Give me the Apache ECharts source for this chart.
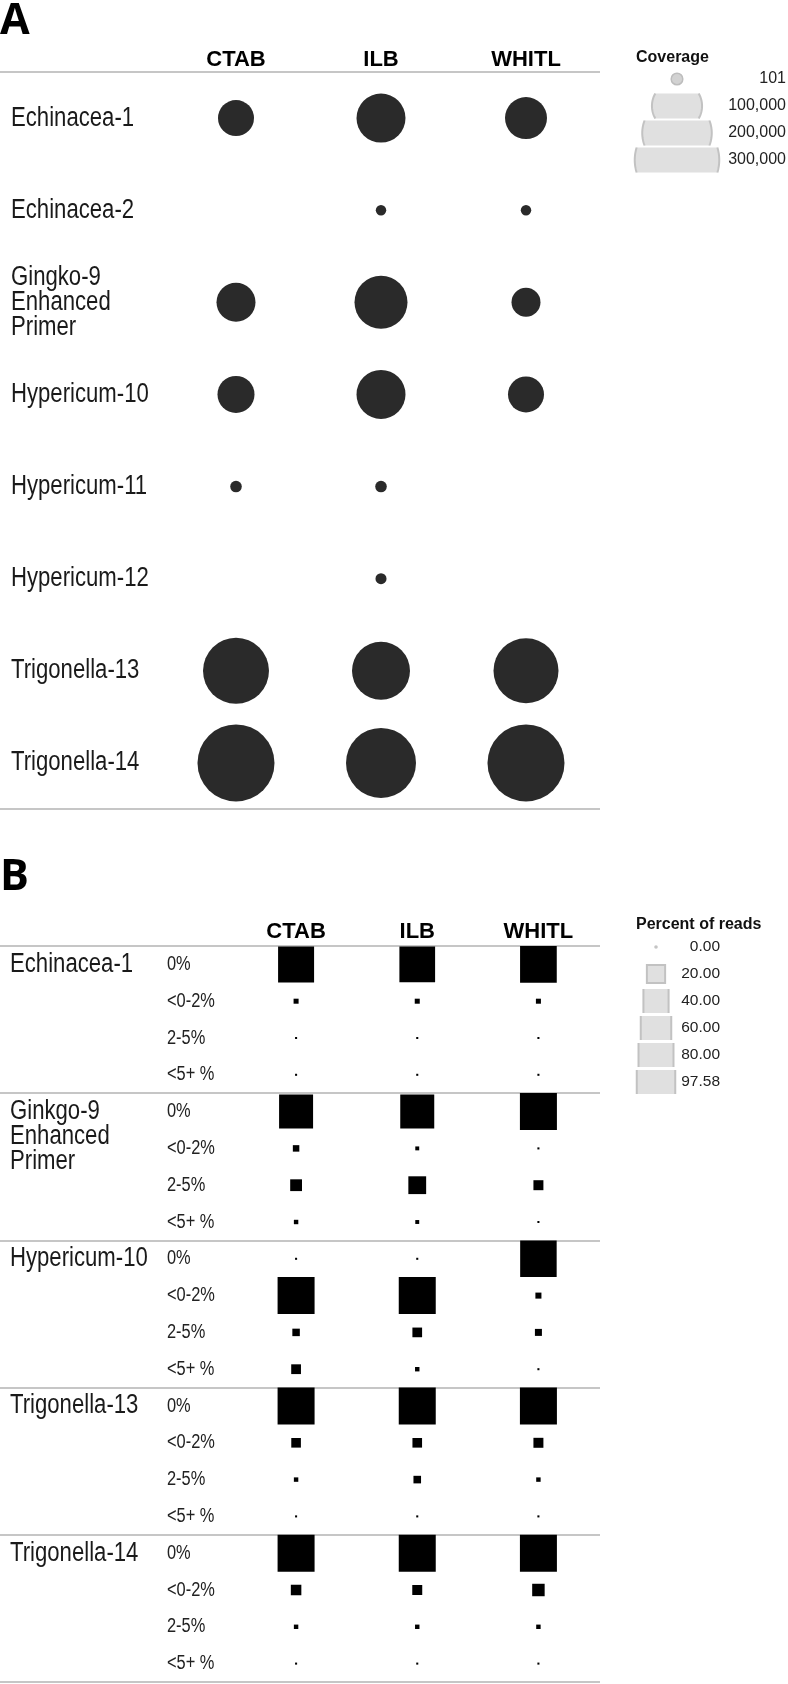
<!DOCTYPE html>
<html>
<head>
<meta charset="utf-8">
<script src="https://cdn.jsdelivr.net/npm/echarts@6.0.0/dist/echarts.min.js"></script>
<style>
html,body{margin:0;padding:0;background:#fff;}
#chart{width:788px;height:1684px;}
</style>
</head>
<body>
<div id="chart"></div>
<script>
// ---------------- DATA ----------------
// Panel A: coverage
const methods = ['CTAB', 'ILB', 'WHITL'];
const samplesA = ['Echinacea-1', 'Echinacea-2', 'Gingko-9\nEnhanced\nPrimer', 'Hypericum-10',
  'Hypericum-11', 'Hypericum-12', 'Trigonella-13', 'Trigonella-14'];
const coverageCTAB  = [52900, null, 62800, 56100, 1500, null, 188000, 257600];
const coverageILB   = [101700, 400, 119700, 101700, 1500, 1000, 144200, 212100];
const coverageWHITL = [73500, 400, 32700, 52900, null, null, 182300, 257600];
const coverageLegendLabels = ['101', '100,000', '200,000', '300,000'];
const coverageLegendValues = [101, 100000, 200000, 300000];

// Panel B: percent of reads by mismatch bin
const samplesB = ['Echinacea-1', 'Ginkgo-9\nEnhanced\nPrimer', 'Hypericum-10', 'Trigonella-13', 'Trigonella-14'];
const bins = ['0%', '<0-2%', '2-5%', '<5+ %'];
const pctCTAB  = [92.4, 1.8, 0.3, 0.3,  82.4, 3.0, 9.9, 1.4,  0.3, 97.6, 4.0, 6.8,  97.6, 6.6, 1.4, 0.3,  97.6, 7.9, 1.4, 0.3];
const pctILB   = [90.9, 1.8, 0.3, 0.3,  82.4, 1.1, 22.6, 1.1, 0.3, 97.6, 6.7, 1.4,  97.6, 6.6, 4.1, 0.3,  97.6, 7.1, 1.4, 0.3];
const pctWHITL = [96.0, 1.8, 0.3, 0.3,  97.6, 0.3, 7.1, 0.3,  95.0, 2.6, 3.5, 0.3,  97.6, 7.1, 1.4, 0.3,  97.58, 11.1, 1.4, 0.3];
const pctLegendLabels = ['0.00', '20.00', '40.00', '60.00', '80.00', '97.58'];
const pctLegendValues = [0, 20, 40, 60, 80, 97.58];

// ---------------- STYLE / SCALES ----------------
const SANS = "'Liberation Sans',Arial,sans-serif";
const RULE = '#c6c6c6';
const NARROW_SCALE = 0.82;   // reference uses a condensed face
const circleSize = v => Math.sqrt(100 + 0.02263 * v);          // diameter (px)
const squareSize = v => Math.max(2, 3.745 * Math.sqrt(v));      // side (px)

// Build series data from the arrays
const covArrays = [coverageCTAB, coverageILB, coverageWHITL];
const dataA = [];
covArrays.forEach((arr, m) => arr.forEach((v, r) => { if (v != null) dataA.push([m, r, v]); }));

const pctArrays = [pctCTAB, pctILB, pctWHITL];
const rowsB = [];
const groupNamesB = [];
const groupRowIdxB = [];
samplesB.forEach((s, g) => bins.forEach((b, i) => {
  rowsB.push(b);
  if (i === 0) { groupNamesB.push(s); groupRowIdxB.push([0, g * bins.length]); }
}));
const dataB = [];
pctArrays.forEach((arr, m) => arr.forEach((v, r) => dataB.push([m, r, v])));

const labelIdxA = samplesA.map((s, i) => [0, i]);
const labelIdxBins = rowsB.map((s, i) => [0, i]);

const legA = coverageLegendValues.map((v, i) => [0, i, v]);
const legB = pctLegendValues.map((v, i) => [0, i, v]);

const hidden = {show: false};
const noAxis = {axisLine: hidden, axisTick: hidden, splitLine: hidden};

// condensed row label renderer (text drawn at fixed left x, row y from the axis)
function labelRenderer(names, xPos, fontSize, color, firstLineOnRow) {
  return function (params, api) {
    const c = api.coord([api.value(0), api.value(1)]);
    const name = names[params.dataIndex];
    const lh = 25;
    return {
      type: 'text', x: xPos, y: firstLineOnRow ? c[1] - lh / 2 : c[1], scaleX: NARROW_SCALE, scaleY: 1,
      style: {text: name, fontFamily: SANS, fontSize: fontSize, lineHeight: lh, fill: color,
        align: 'left', verticalAlign: firstLineOnRow ? 'top' : 'middle'}
    };
  };
}

function clippedCircle(params, api) {
  const c = api.coord([api.value(0), api.value(1)]);
  const v = api.value(2);
  const d = circleSize(v) + 1.5;
  const r = d / 2;
  const h = 12.5;
  if (r <= h) {
    return {type: 'circle', shape: {cx: c[0], cy: c[1], r: r},
      style: {fill: '#d2d2d2', stroke: '#bdbdbd', lineWidth: 1.5}};
  }
  const a = Math.asin(h / r);
  const right = [], left = [];
  const N = 24;
  for (let i = 0; i <= N; i++) {
    const t = -a + 2 * a * i / N;
    right.push([c[0] + r * Math.cos(t), c[1] + r * Math.sin(t)]);
    const t2 = Math.PI - a + 2 * a * i / N;
    left.push([c[0] + r * Math.cos(t2), c[1] + r * Math.sin(t2)]);
  }
  return {type: 'group', children: [
    {type: 'polygon', shape: {points: right.concat(left)}, style: {fill: '#e0e0e0'}},
    {type: 'polyline', shape: {points: right}, style: {stroke: '#c2c2c2', lineWidth: 2, fill: null}},
    {type: 'polyline', shape: {points: left}, style: {stroke: '#c2c2c2', lineWidth: 2, fill: null}}
  ]};
}

function clippedSquare(params, api) {
  const c = api.coord([api.value(0), api.value(1)]);
  const v = api.value(2);
  if (v <= 0) {
    return {type: 'circle', shape: {cx: c[0], cy: c[1], r: 1.8}, style: {fill: '#c4c4c4'}};
  }
  const s = squareSize(v) + 1.5;
  const h = 12;
  if (s / 2 <= h) {
    return {type: 'rect', shape: {x: c[0] - s / 2, y: c[1] - s / 2, width: s, height: s},
      style: {fill: '#e0e0e0', stroke: '#c2c2c2', lineWidth: 2}};
  }
  const x0 = c[0] - s / 2, x1 = c[0] + s / 2;
  return {type: 'group', children: [
    {type: 'rect', shape: {x: x0, y: c[1] - h, width: s, height: 2 * h}, style: {fill: '#e0e0e0'}},
    {type: 'line', shape: {x1: x0, y1: c[1] - h, x2: x0, y2: c[1] + h}, style: {stroke: '#c2c2c2', lineWidth: 2}},
    {type: 'line', shape: {x1: x1, y1: c[1] - h, x2: x1, y2: c[1] + h}, style: {stroke: '#c2c2c2', lineWidth: 2}}
  ]};
}

const gridBase = {outerBoundsMode: 'none', containLabel: false};

const option = {
  animation: false,
  backgroundColor: '#fff',
  title: [
    {text: 'A', left: 0, top: 0.5, padding: 0, textStyle: {fontFamily: "'Open Sans',sans-serif", fontWeight: 'bold', fontSize: 43, color: '#000'}},
    {text: 'B', left: 0, top: 856, padding: 0, textStyle: {fontFamily: "'Open Sans',sans-serif", fontWeight: 'bold', fontSize: 43, color: '#000'}},
    {text: 'Coverage', left: 636, top: 50, padding: 0, textStyle: {fontFamily: SANS, fontWeight: 'bold', fontSize: 16, color: '#111'}},
    {text: 'Percent of reads', left: 636, top: 917, padding: 0, textStyle: {fontFamily: SANS, fontWeight: 'bold', fontSize: 16, color: '#111'}}
  ],
  grid: [
    {...gridBase, left: 163.5, top: 72, width: 435, height: 737},     // 0 panel A
    {...gridBase, left: 0, top: 72, width: 600, height: 737},          // 1 frame A
    {...gridBase, left: 640, top: 65.5, width: 74, height: 108},       // 2 legend A
    {...gridBase, left: 235.5, top: 946, width: 363.5, height: 736},   // 3 panel B
    {...gridBase, left: 0, top: 946, width: 600, height: 736},         // 4 frame B
    {...gridBase, left: 638, top: 933.5, width: 36, height: 162}       // 5 legend B
  ],
  xAxis: [
    {gridIndex: 0, type: 'category', data: methods, position: 'top', ...noAxis,
      axisLabel: {interval: 0, margin: 1, fontFamily: SANS, fontWeight: 'bold', fontSize: 22, color: '#000'}},
    {gridIndex: 1, type: 'value', show: false},
    {gridIndex: 2, type: 'category', data: ['s'], show: false},
    {gridIndex: 3, type: 'category', data: methods, position: 'top', ...noAxis,
      axisLabel: {interval: 0, margin: 3, fontFamily: SANS, fontWeight: 'bold', fontSize: 22, color: '#000'}},
    {gridIndex: 4, type: 'value', show: false},
    {gridIndex: 5, type: 'category', data: ['s'], show: false}
  ],
  yAxis: [
    {gridIndex: 0, type: 'category', data: samplesA, inverse: true, position: 'left', ...noAxis, axisLabel: hidden},
    {gridIndex: 1, type: 'category', data: ['frame'], axisLine: hidden, axisTick: hidden, axisLabel: hidden,
      splitLine: {show: true, lineStyle: {color: RULE, width: 2}}},
    {gridIndex: 2, type: 'category', data: coverageLegendLabels, inverse: true, position: 'right', ...noAxis,
      axisLabel: {interval: 0, align: 'right', margin: 72, fontFamily: SANS, fontSize: 16, color: '#222'}},
    {gridIndex: 3, type: 'category', data: rowsB, inverse: true, position: 'left', ...noAxis, axisLabel: hidden},
    {gridIndex: 4, type: 'category', data: samplesB, axisLine: hidden, axisTick: hidden, axisLabel: hidden,
      splitLine: {show: true, lineStyle: {color: RULE, width: 2}}},
    {gridIndex: 5, type: 'category', data: pctLegendLabels, inverse: true, position: 'right', ...noAxis,
      axisLabel: {interval: 0, align: 'right', margin: 46, fontFamily: SANS, fontSize: 15.5, color: '#222'}}
  ],
  series: [
    {type: 'scatter', xAxisIndex: 0, yAxisIndex: 0, data: dataA, clip: false,
      symbol: 'circle', symbolSize: val => circleSize(val[2]), itemStyle: {color: '#2a2a2a', opacity: 1}},
    {type: 'custom', xAxisIndex: 0, yAxisIndex: 0, data: labelIdxA, clip: false,
      renderItem: labelRenderer(samplesA, 11, 27, '#1a1a1a', false)},
    {type: 'custom', xAxisIndex: 2, yAxisIndex: 2, data: legA, renderItem: clippedCircle, clip: false},
    {type: 'scatter', xAxisIndex: 3, yAxisIndex: 3, data: dataB, clip: false,
      symbol: 'rect', symbolSize: val => squareSize(val[2]), itemStyle: {color: '#000', opacity: 1}},
    {type: 'custom', xAxisIndex: 3, yAxisIndex: 3, data: labelIdxBins, clip: false,
      renderItem: labelRenderer(rowsB, 167, 20, '#222', false)},
    {type: 'custom', xAxisIndex: 3, yAxisIndex: 3, data: groupRowIdxB, clip: false,
      renderItem: labelRenderer(groupNamesB, 10, 27, '#1a1a1a', true)},
    {type: 'custom', xAxisIndex: 5, yAxisIndex: 5, data: legB, renderItem: clippedSquare, clip: false}
  ]
};

const chart = echarts.init(document.getElementById('chart'), null, {renderer: 'canvas'});
chart.setOption(option);
</script>
</body>
</html>
